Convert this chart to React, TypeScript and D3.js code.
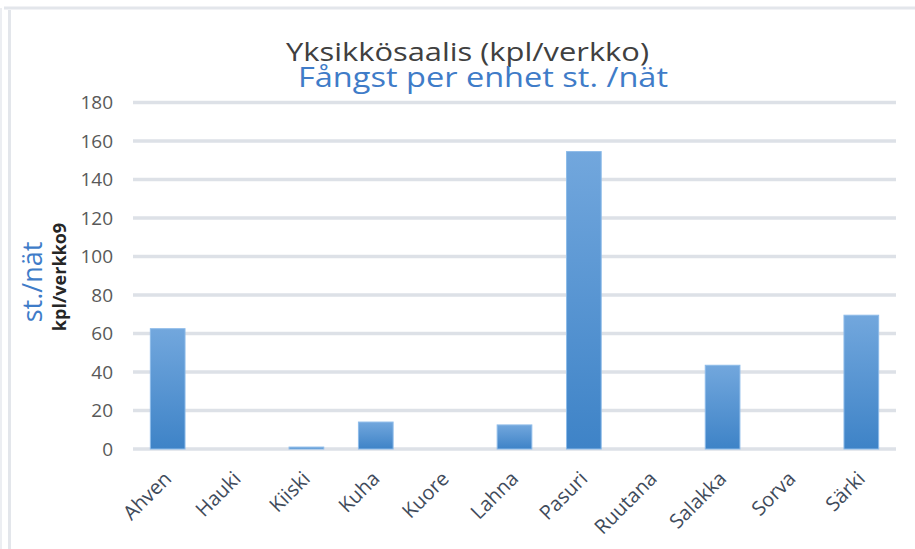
import React from "react";
import * as d3 from "d3";

const categories = ["Ahven", "Hauki", "Kiiski", "Kuha", "Kuore", "Lahna", "Pasuri", "Ruutana", "Salakka", "Sorva", "Särki"];
const values = [62.5, 0, 1, 14, 0, 12.5, 154.5, 0, 43.5, 0, 69.5];
const yTicks = [0, 20, 40, 60, 80, 100, 120, 140, 160, 180];
const titleFi = "Yksikkösaalis (kpl/verkko)";
const titleSv = "Fångst per enhet st. /nät";
const yTitleSv = "st./nät";
const yTitleFi = "kpl/verkko9";

const W = 915;
const H = 549;
const x0 = 133;
const x1 = 896;
const yTop = 102.5;
const yBottom = 449;

export default function App() {
  const x = d3.scaleBand<string>().domain(categories).range([x0, x1]).paddingInner(0.5).paddingOuter(0.25);
  const y = d3.scaleLinear().domain([0, 180]).range([yBottom, yTop]);
  const font = "'Open Sans', 'Noto Sans', sans-serif";
  return (
    <svg width={W} height={H} style={{ position: "absolute", left: 0, top: 0, background: "#fff" }}>
      <defs>
        <linearGradient id="barGrad" x1="0" y1="0" x2="0" y2="1">
          <stop offset="0%" stopColor="#72a7dd" />
          <stop offset="100%" stopColor="#3e83c7" />
        </linearGradient>
      </defs>
      <rect x={0} y={0} width={W} height={H} fill="#fff" />
      {/* frame */}
      <line x1={4} x2={W} y1={8} y2={8} stroke="#e3e6eb" strokeWidth={3} />
      <line x1={1} x2={1} y1={8} y2={H} stroke="#eceef2" strokeWidth={2} />
      <line x1={9.5} x2={9.5} y1={10} y2={H} stroke="#e3e6eb" strokeWidth={3} />
      {/* gridlines */}
      {yTicks.map((t) => (
        <line key={t} x1={x0} x2={x1} y1={y(t)} y2={y(t)} stroke="#dde1e7" strokeWidth={3.5} />
      ))}
      {/* y tick labels */}
      {yTicks.map((t) => (
        <text key={"l" + t} x={113} y={y(t)} dy="0.36em" textAnchor="end" fontFamily={font} fontSize={19} fill="#595959">
          {t}
        </text>
      ))}
      {/* bars */}
      {categories.map((c, i) =>
        values[i] > 0 ? (
          <rect
            key={c}
            x={x(c)!}
            y={y(values[i])}
            width={x.bandwidth()}
            height={y(0) - y(values[i])}
            fill="url(#barGrad)"
            stroke="#8dbbe9"
            strokeWidth={1}
          />
        ) : null
      )}
      {/* x labels */}
      {categories.map((c) => {
        const cx = x(c)! + x.bandwidth() / 2 + 5;
        const cy = 480;
        return (
          <text
            key={"x" + c}
            transform={`translate(${cx},${cy}) rotate(-45)`}
            textAnchor="end"
            fontFamily={font}
            fontSize={20}
            fill="#3f4b5b"
          >
            {c}
          </text>
        );
      })}
      {/* titles */}
      <text x={286} y={60.5} fontFamily={font} fontSize={25.5} fill="#404040" textLength={363} lengthAdjust="spacingAndGlyphs">
        {titleFi}
      </text>
      <text x={298} y={87} fontFamily={font} fontSize={28} fill="#3f7cc8" textLength={370} lengthAdjust="spacingAndGlyphs">
        {titleSv}
      </text>
      {/* y axis titles */}
      <text transform={`translate(42,282) rotate(-90)`} textAnchor="middle" fontFamily={font} fontSize={27} fill="#3f7cc8">
        {yTitleSv}
      </text>
      <text transform={`translate(66,277) rotate(-90)`} textAnchor="middle" fontFamily={font} fontSize={18} fontWeight="bold" fill="#262626">
        {yTitleFi}
      </text>
    </svg>
  );
}
